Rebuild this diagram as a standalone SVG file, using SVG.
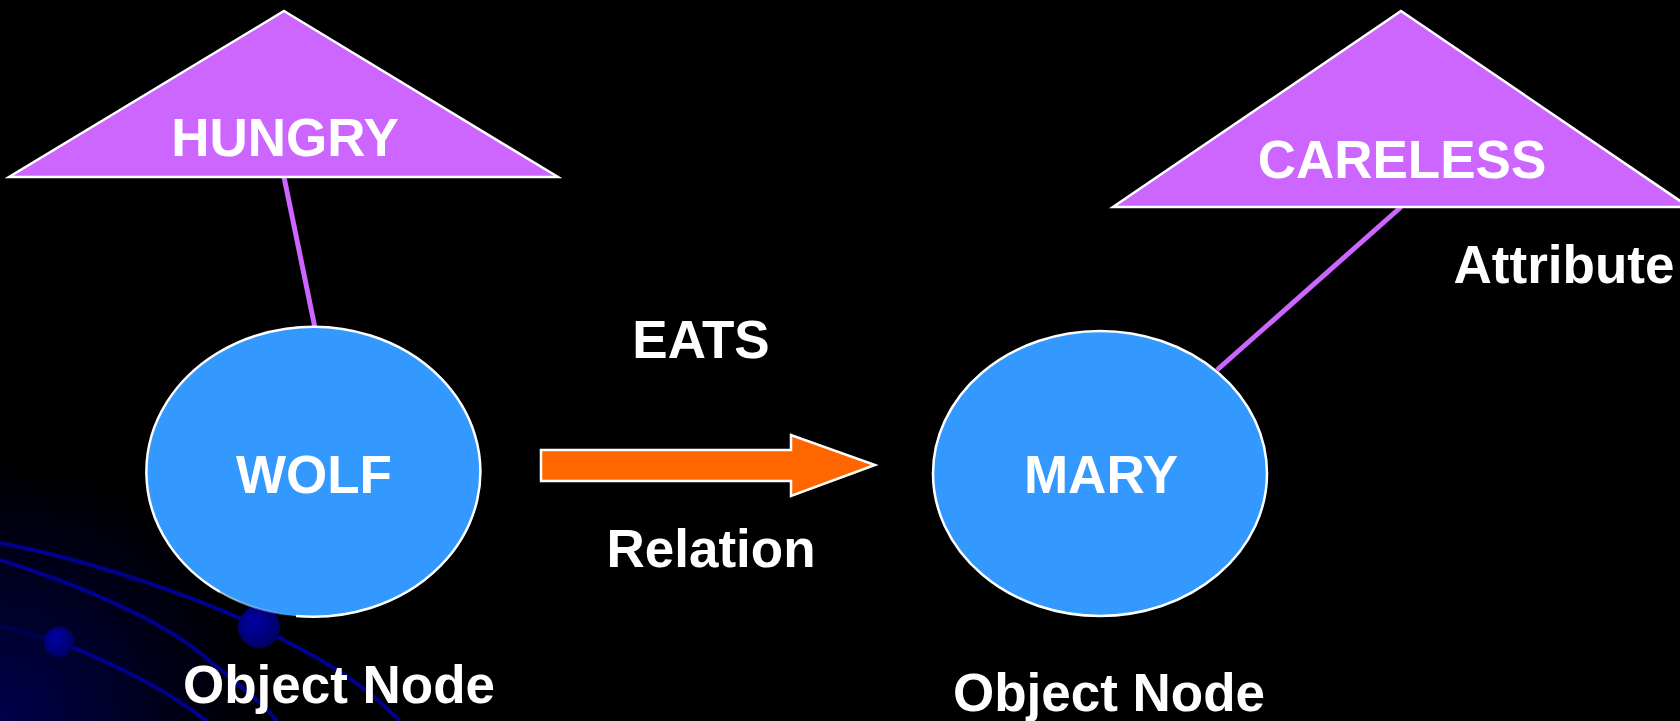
<svg xmlns="http://www.w3.org/2000/svg" width="1680" height="721" viewBox="0 0 1680 721">
  <defs>
    <radialGradient id="cornerGlow" cx="0" cy="721" r="260" gradientUnits="userSpaceOnUse">
      <stop offset="0" stop-color="#00004E"/>
      <stop offset="0.55" stop-color="#000020"/>
      <stop offset="1" stop-color="#000000"/>
    </radialGradient>
    <radialGradient id="orb" cx="0.4" cy="0.4" r="0.65">
      <stop offset="0" stop-color="#0000A8"/>
      <stop offset="1" stop-color="#000060"/>
    </radialGradient>
    <linearGradient id="fadeEdge" x1="220" y1="592" x2="296" y2="616" gradientUnits="userSpaceOnUse">
      <stop offset="0" stop-color="#ffffff" stop-opacity="0.7"/>
      <stop offset="1" stop-color="#ffffff" stop-opacity="0"/>
    </linearGradient>
    <style>
      .lbl { font-family: "Liberation Sans", Arial, Helvetica, sans-serif; font-weight: bold; font-size: 53px; fill: #ffffff; text-anchor: middle; }
      .attr { fill: #CC66FF; stroke: #ffffff; stroke-width: 2.5; stroke-linejoin: miter; }
      .obj { fill: #3399FF; }
      .objEdge { fill: none; stroke: #ffffff; stroke-width: 2.5; }
      .link { stroke: #CC66FF; stroke-width: 5; fill: none; }
      .trail { stroke: #000090; stroke-width: 4; fill: none; }
    </style>
  </defs>

  <!-- backdrop -->
  <rect x="0" y="0" width="1680" height="721" fill="#000000"/>
  <rect x="0" y="440" width="300" height="281" fill="url(#cornerGlow)"/>

  <!-- orbit trails in the lower-left corner -->
  <g id="orbits">
    <path class="trail" d="M0,543 C90,560 200,598 260,628 S360,680 400,721"/>
    <path class="trail" d="M0,560 C80,585 160,620 200,653 S260,700 277,721"/>
    <path class="trail" d="M59,642 C100,658 160,685 207,721"/>
    <path class="trail" d="M0,626 L59,642" stroke-opacity="0.35"/>
    <circle cx="259" cy="627" r="21" fill="url(#orb)"/>
    <circle cx="59" cy="642" r="15" fill="url(#orb)"/>
  </g>

  <!-- connectors -->
  <g id="connectors">
    <line class="link" x1="284" y1="177" x2="315" y2="328"/>
    <line class="link" x1="1401" y1="207" x2="1217" y2="370"/>
    <polygon id="eats-arrow" points="541,450 791,450 791,435 875,465 791,496 791,481 541,481"
             fill="#FF6600" stroke="#ffffff" stroke-width="2.5" stroke-linejoin="miter"/>
  </g>

  <!-- attribute nodes -->
  <g id="node-hungry">
    <polygon class="attr" points="284,11 558,177 9,177"/>
    <text class="lbl" x="285" y="156">HUNGRY</text>
  </g>
  <g id="node-careless">
    <polygon class="attr" points="1401,11 1689,207 1113,207"/>
    <text class="lbl" x="1402" y="178">CARELESS</text>
  </g>

  <!-- object nodes -->
  <g id="node-wolf">
    <ellipse class="obj" cx="314" cy="472" rx="167" ry="145"/>
    <path class="objEdge" d="M296,616 A167,145 0 1 0 220,592"/>
    <path d="M220,592 A167,145 0 0 0 296,616" fill="none" stroke="url(#fadeEdge)" stroke-width="2"/>
    <text class="lbl" x="314" y="493">WOLF</text>
  </g>
  <g id="node-mary">
    <ellipse class="obj" cx="1100" cy="473.5" rx="167" ry="142.5" stroke="#ffffff" stroke-width="2.5"/>
    <text class="lbl" x="1101" y="493">MARY</text>
  </g>

  <!-- captions -->
  <g id="captions">
    <text class="lbl" x="701" y="358">EATS</text>
    <text class="lbl" x="711" y="567">Relation</text>
    <text class="lbl" x="1564" y="283">Attribute</text>
    <text class="lbl" x="339" y="703">Object Node</text>
    <text class="lbl" x="1109" y="711">Object Node</text>
  </g>
</svg>
